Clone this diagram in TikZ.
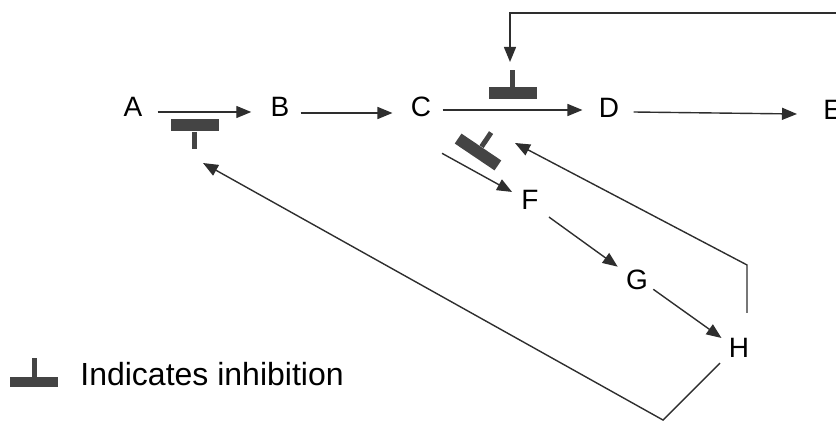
\documentclass[tikz,border=0pt]{standalone}
\usepackage{fontspec}
\setmainfont{Liberation Sans}
\usetikzlibrary{arrows.meta,positioning}
\definecolor{tinte}{HTML}{2E2E2E}
\definecolor{balken}{HTML}{444444}
\begin{document}
\begin{tikzpicture}[x=0.5pt,y=-0.5pt,
  stoff/.style={font=\fontsize{14}{16}\selectfont,inner sep=0pt},
  pfeil/.style={draw=tinte,line width=0.7pt,-{Triangle[length=7.5pt,width=6pt]}},
  linie/.style={draw=tinte,line width=0.7pt},
  hemmer/.style={fill=balken,minimum width=24pt,minimum height=6pt,inner sep=0pt},
  stiel/.style={draw=balken,line width=2.5pt}]
\useasboundingbox (0,0) rectangle (836,422);
%
% Stoffe
\node[stoff] (A) at (133,107) {A};
\node[stoff] (B) at (280,107) {B};
\node[stoff] (C) at (421,107) {C};
\node[stoff] (D) at (609,108) {D};
\node[stoff,anchor=west] (E) at (823,110) {E};
\node[stoff] (F) at (530,200) {F};
\node[stoff] (G) at (637,280) {G};
\node[stoff] (H) at (739,348) {H};
%
% Hauptweg
\draw[pfeil] ([shift={(15,5)}]A.east) -- ([shift={(-19,5)}]B.west);
\draw[pfeil] ([shift={(11,6)}]B.east) -- ([shift={(-18,6)}]C.west);
\draw[pfeil] ([shift={(11,3)}]C.east) -- ([shift={(-16,2)}]D.west);
\draw[pfeil] ([shift={(14,4)}]D.east) -- ([shift={(-26,4)}]E.west);
%
% Seitenweg
\draw[pfeil] ([shift={(21,36)}]C.south) -- ([shift={(-9,2)}]F.north west);
\draw[pfeil] ([shift={(10,7)}]F.south east) -- ([shift={(-8,-3)}]G.north west);
\draw[pfeil] ([shift={(5,-1)}]G.south east) -- ([shift={(-7,0)}]H.north west);
%
% Hemmung
\node[hemmer] (abhem) at (194.5,125.5) {};
\draw[stiel] (abhem.south) -- ++(0,17);
\node[hemmer] (cdhem) at (512.5,93.5) {};
\draw[stiel] (cdhem.north) -- ++(0,-17);
\node[hemmer,rotate=-34] (cfhem) at (478,152) {};
\draw[stiel] (cfhem.north) -- ++(-56:17);
%
% Rueckkopplungen
\coordinate (oben) at (836,13);
\coordinate (ziel1) at (510,62);
\coordinate (ziel2) at (515,143);
\coordinate (ziel3) at (203,163);
\draw[pfeil] (oben) -| (ziel1);
\draw[pfeil] ([shift={(8,-25)}]H.north) -- ++(0,-48) -- (ziel2);
\draw[pfeil] ([shift={(-19,5)}]H.south) -- ++(-57,57) -- (ziel3);
%
% Legende
\node[hemmer,minimum width=24pt,minimum height=5pt] (leghem) at (34,382) {};
\draw[stiel] (leghem.north) -- ++(0,-19);
\node[anchor=west,inner sep=0pt,font=\fontsize{16}{18}\selectfont] (legtext) at (80,374) {Indicates inhibition};
\end{tikzpicture}
\end{document}
